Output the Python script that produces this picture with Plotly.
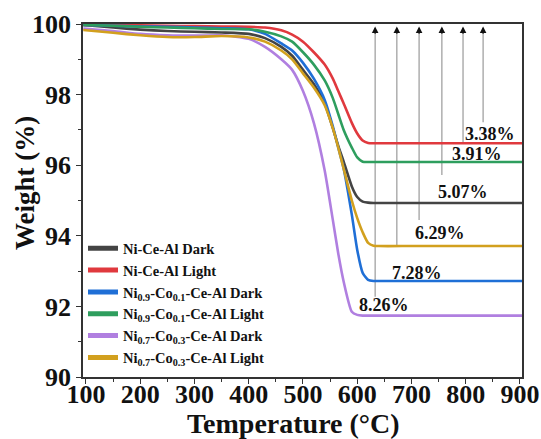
import plotly.graph_objects as go

# ---- data ----
temps = [95, 150, 200, 250, 300, 350, 400, 430, 460, 480, 500, 520, 540, 555, 565, 575, 590, 600, 610, 620, 630, 640, 700, 800, 904]

ni_ce_al_dark = [99.97, 99.90, 99.84, 99.80, 99.78, 99.76, 99.72, 99.60, 99.35, 99.10, 98.70, 98.30, 97.75, 97.05, 96.55, 96.10, 95.40, 95.10, 94.97, 94.94, 94.93, 94.93, 94.93, 94.93, 94.93]
ni_ce_al_light = [99.97, 99.97, 99.96, 99.95, 99.94, 99.93, 99.92, 99.90, 99.82, 99.70, 99.50, 99.20, 98.85, 98.45, 98.10, 97.75, 97.20, 96.90, 96.70, 96.63, 96.62, 96.62, 96.62, 96.62, 96.62]
ni09_dark = [99.97, 99.95, 99.93, 99.92, 99.90, 99.88, 99.85, 99.72, 99.45, 99.25, 98.90, 98.45, 97.85, 97.10, 96.50, 95.90, 94.60, 93.60, 92.95, 92.75, 92.72, 92.72, 92.72, 92.72, 92.72]
ni09_light = [99.97, 99.95, 99.92, 99.90, 99.88, 99.86, 99.85, 99.78, 99.65, 99.50, 99.20, 98.85, 98.40, 97.90, 97.45, 97.00, 96.50, 96.22, 96.10, 96.09, 96.09, 96.09, 96.09, 96.09, 96.09]
ni07_dark = [99.87, 99.80, 99.72, 99.68, 99.67, 99.68, 99.58, 99.35, 99.00, 98.70, 98.10, 97.20, 95.85, 94.45, 93.50, 92.70, 91.85, 91.76, 91.74, 91.74, 91.74, 91.74, 91.74, 91.74, 91.74]
ni07_light = [99.83, 99.75, 99.68, 99.63, 99.63, 99.66, 99.62, 99.50, 99.25, 99.00, 98.60, 98.20, 97.70, 97.05, 96.50, 95.90, 95.00, 94.50, 94.10, 93.80, 93.72, 93.71, 93.71, 93.71, 93.71]

series_names = [
    "Ni-Ce-Al Dark",
    "Ni-Ce-Al Light",
    "Ni<sub>0.9</sub>-Co<sub>0.1</sub>-Ce-Al Dark",
    "Ni<sub>0.9</sub>-Co<sub>0.1</sub>-Ce-Al Light",
    "Ni<sub>0.7</sub>-Co<sub>0.3</sub>-Ce-Al Dark",
    "Ni<sub>0.7</sub>-Co<sub>0.3</sub>-Ce-Al Light",
]
series_values = [ni_ce_al_dark, ni_ce_al_light, ni09_dark, ni09_light, ni07_dark, ni07_light]
colors = ["#444444", "#e0393e", "#1f6fd6", "#2e9e5e", "#b07fe0", "#d2a01e"]

# weight-loss labels and arrows
loss_labels = ["3.38%", "3.91%", "5.07%", "6.29%", "7.28%", "8.26%"]
label_x = [845, 821, 795, 752, 710, 649]
label_y = [96.88, 96.32, 95.24, 94.08, 92.95, 92.03]
arrow_x = [832, 795, 756, 714, 673, 633]
arrow_y0 = [97.22, 96.63, 95.72, 94.45, 93.68, 92.27]
arrow_y1 = 99.93

x_ticks = [100, 200, 300, 400, 500, 600, 700, 800, 900]
y_ticks = [90, 92, 94, 96, 98, 100]
x_title = "Temperature (°C)"
y_title = "Weight (%)"

FONT = "Liberation Serif"

fig = go.Figure()
for name, vals, c in zip(series_names, series_values, colors):
    fig.add_trace(go.Scatter(x=temps, y=vals, mode="lines", name="<b>" + name + "</b>",
                             line=dict(color=c, width=2.6, shape="spline", smoothing=0.6)))

for ax_, y0 in zip(arrow_x, arrow_y0):
    fig.add_shape(type="line", x0=ax_, x1=ax_, y0=y0, y1=arrow_y1 - 0.15,
                  line=dict(color="#9a9a9a", width=1.2), layer="below")
    fig.add_annotation(x=ax_, y=arrow_y1, ax=ax_, ay=arrow_y1 - 0.25, axref="x", ayref="y",
                       xref="x", yref="y", showarrow=True, arrowhead=2, arrowsize=1.1,
                       arrowwidth=1.2, arrowcolor="#111111", text="")

for t, lx, ly in zip(loss_labels, label_x, label_y):
    fig.add_annotation(x=lx, y=ly, text="<b>" + t + "</b>", showarrow=False, xref="x", yref="y",
                       font=dict(family=FONT, size=18, color="#111111"))

# axis titles as paper annotations
fig.add_annotation(x=0.48, y=-0.133, xref="paper", yref="paper", xanchor="center", yanchor="middle",
                   text="<b>" + x_title + "</b>", showarrow=False,
                   font=dict(family=FONT, size=28, color="#111111"))
fig.add_annotation(x=-0.132, y=0.55, xref="paper", yref="paper", xanchor="center", yanchor="middle",
                   text="<b>" + y_title + "</b>", showarrow=False, textangle=-90,
                   font=dict(family=FONT, size=27, color="#111111"))

axis_common = dict(showline=True, linecolor="#333333", linewidth=1.5, mirror=True,
                   ticks="outside", ticklen=5, tickwidth=1.3, tickcolor="#333333",
                   showgrid=False, zeroline=False, automargin=False,
                   tickfont=dict(family=FONT, size=26, color="#111111"))

fig.update_xaxes(range=[94.5, 903.7], tickvals=x_ticks, ticklabelstandoff=-12,
                 ticktext=["<b>%d</b>" % v for v in x_ticks], **axis_common,
                 minor=dict(ticks="outside", ticklen=3, tickcolor="#333333", dtick=50, tick0=100))
fig.update_yaxes(range=[90, 100], tickvals=y_ticks,
                 ticktext=["<b>%d</b>" % v for v in y_ticks], **axis_common,
                 minor=dict(ticks="outside", ticklen=3, tickcolor="#333333", dtick=1, tick0=90))

fig.update_layout(
    width=541, height=439,
    margin=dict(l=83, r=19, t=24, b=62),
    paper_bgcolor="white", plot_bgcolor="white",
    showlegend=True,
    legend=dict(x=0.0, y=0.41, xanchor="left", yanchor="top",
                bgcolor="rgba(0,0,0,0)", borderwidth=0, tracegroupgap=0,
                itemwidth=30, itemsizing="constant",
                font=dict(family=FONT, size=14.5, color="#111111")),
)

fig.write_html("out.html")
